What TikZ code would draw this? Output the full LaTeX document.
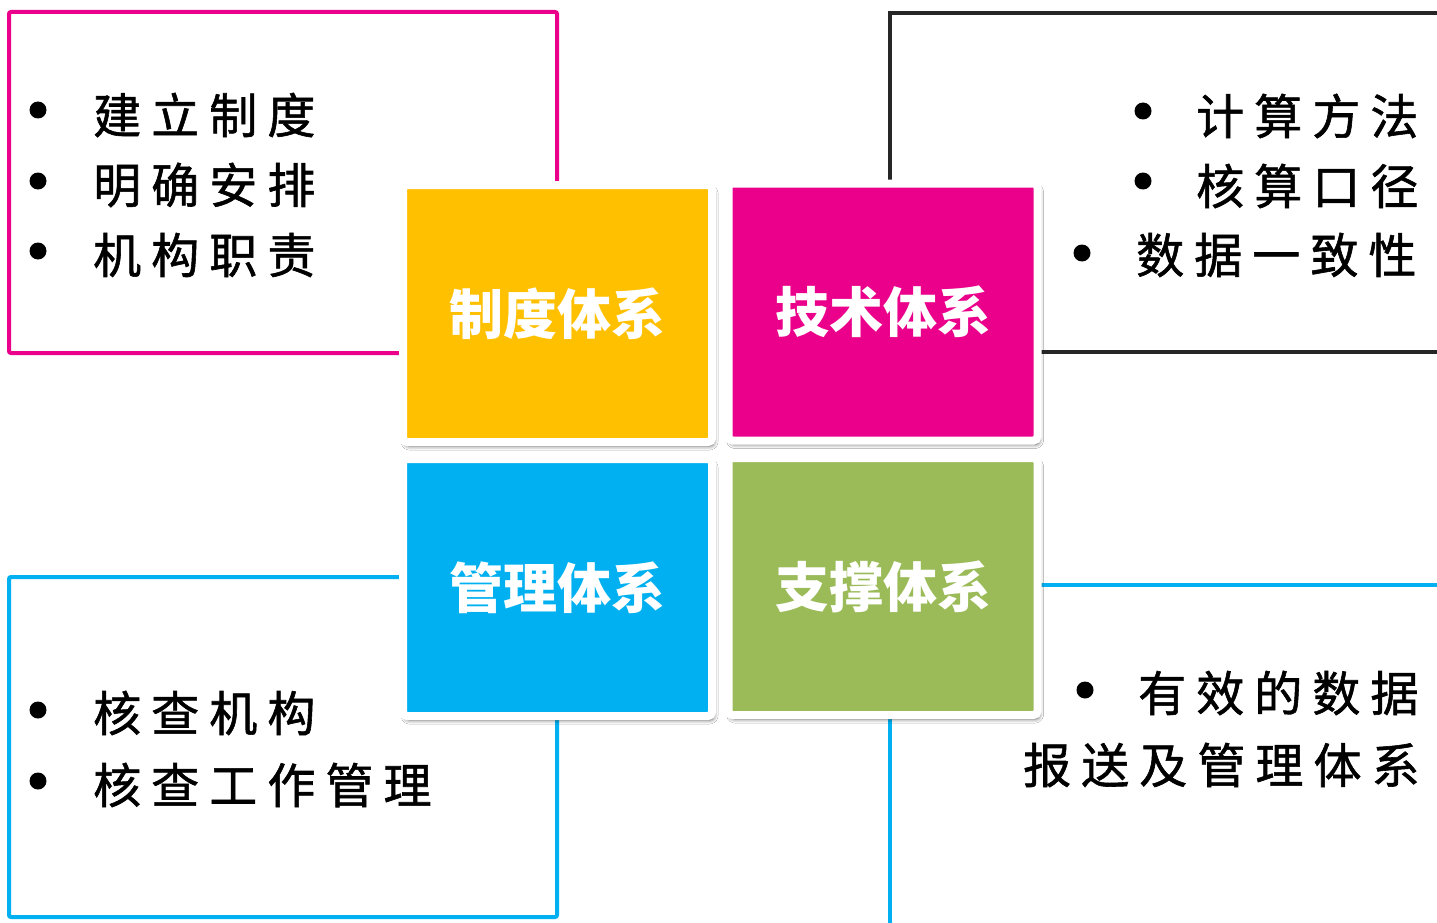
\documentclass[tikz,border=0pt]{standalone}
\usepackage{fontspec}
\usetikzlibrary{shadows.blur}
\newfontfamily\cjk[LetterSpace=21,FakeBold=1.2]{Noto Sans CJK SC}
\newfontfamily\cjkhead{Noto Sans CJK SC}
\definecolor{cpink}{HTML}{EA008A}
\definecolor{cyellow}{HTML}{FFC000}
\definecolor{cblue}{HTML}{00B0F0}
\definecolor{cgreen}{HTML}{9BBB59}
\definecolor{cdark}{HTML}{262626}
\begin{document}
\begin{tikzpicture}[x=1pt,y=-1pt,
  frame/.style={line width=4pt, rounded corners=2pt},
  card/.style={draw=white, line width=8pt, rounded corners=4pt,
    minimum width=309pt, minimum height=257pt, inner sep=0pt, outer sep=0pt,
    text=white, font=\cjkhead\bfseries\fontsize{54}{60}\selectfont,
    blur shadow={shadow xshift=2pt, shadow yshift=-4pt, shadow blur radius=4pt, shadow opacity=65}},
  item/.style={anchor=west, inner sep=0pt, font=\cjk\fontsize{48}{56}\selectfont},
  bul/.style={circle, fill=black, minimum size=17pt, inner sep=0pt}]
\useasboundingbox[fill=white] (0,0) rectangle (1437,923);

% frames
\draw[frame, cpink] (9,12) rectangle (557,353);
\draw[frame, cdark, rounded corners=0pt] (1437,13) -- (890,13) -- (890,352) -- (1437,352);
\draw[frame, cblue] (9,577) rectangle (557,917);
\draw[frame, cblue, rounded corners=0pt] (1437,585) -- (890,585) -- (890,923);

% cards
\node[card, fill=cyellow] (zhidu) at (557.5,313.5) {制度体系};
\node[card, fill=cpink] (jishu) at (883,312) {技术体系};
\node[card, fill=cblue] (guanli) at (557.5,587.5) {管理体系};
\node[card, fill=cgreen] (zhicheng) at (883,586.5) {支撑体系};

% left top list
\node[bul] (b1) at (38,110) {};
\node[bul] (b2) at (38,181) {};
\node[bul] (b3) at (38,251) {};
\node[item] (t1) at (93,115) {建立制度};
\node[item] (t2) at (93,185) {明确安排};
\node[item] (t3) at (93,255) {机构职责};

% left bottom list
\node[bul] (b4) at (38,710) {};
\node[bul] (b5) at (38,781) {};
\node[item] (t4) at (93,713) {核查机构};
\node[item] (t5) at (93,785) {核查工作管理};

% right top list
\node[bul] (b6) at (1143,111) {};
\node[bul] (b7) at (1143,181) {};
\node[bul] (b8) at (1082,253) {};
\node[item] (t6) at (1196,116) {计算方法};
\node[item] (t7) at (1196,186) {核算口径};
\node[item] (t8) at (1136,255) {数据一致性};

% right bottom list
\node[bul] (b9) at (1085,690) {};
\node[item] (t9) at (1138,693) {有效的数据};
\node[item] (t10) at (1023,765) {报送及管理体系};
\end{tikzpicture}
\end{document}
